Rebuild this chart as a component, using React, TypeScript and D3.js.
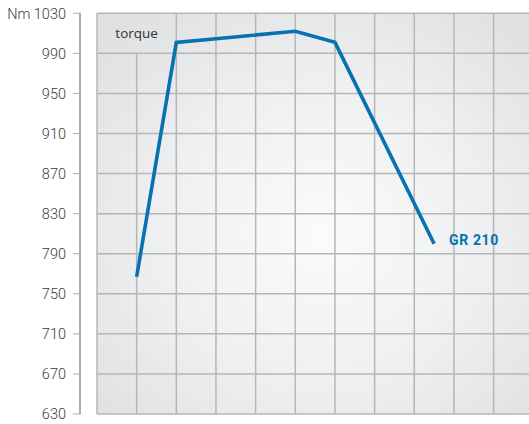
import React from "react";
import * as d3 from "d3";

const yTicks = [630, 670, 710, 750, 790, 830, 870, 910, 950, 990, 1030];
const xTicks = [800, 900, 1000, 1100, 1200, 1300, 1400, 1500, 1600, 1700, 1800];
const rpm = [900, 1000, 1300, 1400, 1650];
const torque = [767, 1001, 1012, 1001, 800];
const seriesName = "GR 210";
const chartLabel = "torque";
const unit = "Nm";

const W = 529;
const H = 424;

export default function App() {
  const left = 97;
  const right = 529;
  const top = 13.3;
  const bottom = 414;
  const x = d3.scaleLinear().domain([800, 800 + (right - left) / 39.66 * 100]).range([left, right]);
  const y = d3.scaleLinear().domain([630, 1030]).range([bottom, top]);
  const line = d3
    .line<number>()
    .x((_, i) => x(rpm[i]))
    .y((d) => y(d));
  const gridColor = "#b5b6b8";
  const lastI = rpm.length - 1;
  return (
    <svg
      width={W}
      height={H}
      style={{ position: "absolute", left: 0, top: 0, background: "#fff" }}
    >
      <defs>
        <radialGradient id="bg" cx="0.52" cy="0.55" r="0.7">
          <stop offset="0" stopColor="#fbfbfb" />
          <stop offset="0.55" stopColor="#eeeff0" />
          <stop offset="1" stopColor="#dfe0e2" />
        </radialGradient>
      </defs>
      <rect x={left} y={top} width={right - left} height={bottom - top} fill="url(#bg)" />
      {yTicks.map((t) => (
        <line key={"h" + t} x1={left} x2={right} y1={y(t)} y2={y(t)} stroke={gridColor} strokeWidth={1.5} />
      ))}
      {xTicks.map((t, i) => (
        <line
          key={"v" + t}
          x1={x(t)}
          x2={x(t)}
          y1={i === 1 ? y(990) : top}
          y2={bottom}
          stroke={gridColor}
          strokeWidth={1.5}
        />
      ))}
      {/* y axis */}
      <line x1={80} x2={80} y1={top - 0.5} y2={bottom + 0.5} stroke="#adaeb0" strokeWidth={2} />
      {yTicks.map((t) => (
        <g key={"t" + t}>
          <line x1={73} x2={80} y1={y(t)} y2={y(t)} stroke="#adaeb0" strokeWidth={1} />
          <text
            x={66}
            y={y(t)}
            dy="0.36em"
            textAnchor="end"
            fontFamily="Roboto, sans-serif"
            fontWeight={300}
            fontSize={14.5}
            fill="#3a3a3a"
          >
            {t === 1030 ? `${unit} ${t}` : t}
          </text>
        </g>
      ))}
      <text
        x={(x(800) + x(1000)) / 2}
        y={(y(1030) + y(990)) / 2}
        dy="0.36em"
        textAnchor="middle"
        fontFamily="'Open Sans', sans-serif"
        fontSize={13.5}
        fill="#333"
      >
        {chartLabel}
      </text>
      <path
        d={line(torque) || ""}
        fill="none"
        stroke="#0672b0"
        strokeWidth={3.6}
        strokeLinejoin="miter"
      />
      <text
        x={x(rpm[lastI]) + 15}
        y={y(torque[lastI])}
        dy="0.1em"
        fontFamily="Roboto, sans-serif"
        fontWeight={700}
        fontSize={14}
        letterSpacing={0.6}
        fill="#0672b0"
      >
        {seriesName}
      </text>
    </svg>
  );
}
